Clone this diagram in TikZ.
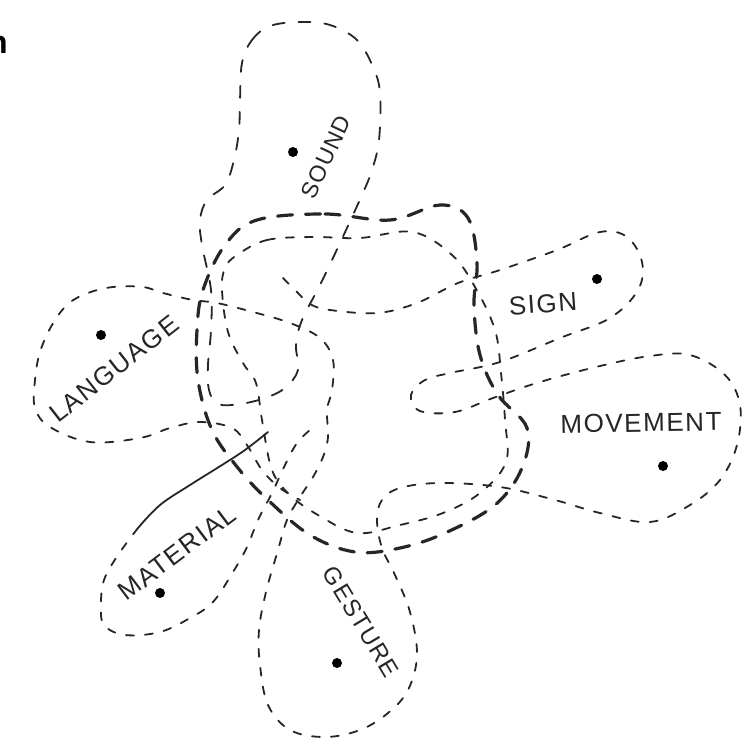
\documentclass[tikz,border=0pt]{standalone}
\usepackage{fontspec}
\newfontfamily\hand[LetterSpace=6]{Liberation Sans}
\newfontfamily\edgefont{Liberation Sans}
\begin{document}
\begin{tikzpicture}[x=0.5pt,y=-0.5pt,line cap=round,line join=round,
  ink/.style={color=black!85},
  thinline/.style={ink,line width=0.9pt,dash pattern=on 4pt off 5.5pt},
  soundline/.style={ink,line width=0.9pt,dash pattern=on 6pt off 7pt},
  boldline/.style={ink,line width=1.6pt,dash pattern=on 7.5pt off 6.5pt},
  solidline/.style={ink,line width=0.9pt},
  spot/.style={circle,fill=black,inner sep=0pt,minimum size=5pt},
  lbl/.style={ink,inner sep=0pt,font=\hand}]
\useasboundingbox (0,0) rectangle (750,745);
\fill[white] (0,0) rectangle (750,745);

% cropped letter at the left edge
\node[anchor=east,inner sep=0pt,font=\edgefont\bfseries\fontsize{16}{18}\selectfont] (edge) at (8,45) {n};

% central bold loop
\draw[boldline] plot[smooth cycle,tension=0.6] coordinates {
 (257,220) (325,214) (390,220) (440,205) (468,218) (477,262) (474,305)
 (480,355) (498,395) (527,428) (522,468) (495,505) (445,533) (400,548)
 (355,552) (310,535) (268,500) (238,468) (212,430) (198,380) (197,330)
 (203,290) (225,245)};

% sound loop
\draw[soundline] plot[smooth cycle,tension=0.6] coordinates {
 (242,63) (252,40) (270,26) (300,22) (330,25) (357,40) (373,67) (380,93)
 (379,140) (372,170) (362,195) (340,243) (320,285) (302,320) (296,345)
 (298,370) (285,388) (265,398) (240,404) (218,404) (209,390) (208,365)
 (211,330) (211,290) (202,245) (200,220) (207,200) (225,185) (234,160)
 (239,130) (240,100)};

% inner loop
\draw[thinline] plot[smooth cycle,tension=0.6] coordinates {
 (237,255) (267,240) (313,237) (360,238) (413,232) (452,255) (475,287)
 (495,330) (501,373) (505,420) (506,462) (480,493) (443,513) (400,525)
 (357,533) (318,515) (290,495) (272,470) (262,420) (256,383) (243,363)
 (228,332) (222,290) (225,268)};

% long strand: sign, movement, gesture, language
\draw[thinline] plot[smooth,tension=0.6] coordinates {
 (283,278) (297,292) (310,304) (330,310) (377,313) (417,303) (458,283)
 (500,270) (557,250) (600,232) (627,237) (642,262) (638,290) (610,318)
 (560,338) (500,362) (450,373) (425,380) (411,395) (420,411) (455,412)
 (493,398) (540,382) (600,366) (650,356) (690,355) (725,375) (740,405)
 (737,445) (720,480) (690,505) (650,522) (600,513) (555,500) (500,487)
 (440,483) (400,488) (382,500) (377,520) (382,548) (395,575) (410,612)
 (417,655) (408,690) (388,713) (360,730) (325,737) (290,730) (268,705)
 (260,665) (259,630) (266,592) (278,550) (287,520) (300,497) (313,477)
 (323,457) (328,437) (327,410) (332,390) (333,360) (320,338) (290,323)
 (253,312) (217,303) (193,300) (163,293) (143,287) (113,287) (88,293)
 (68,304) (52,325) (40,352) (35,380) (35,408) (50,427) (90,442) (140,438)
 (170,428) (200,422) (232,428) (247,445) (262,470) (280,488) (300,500)};

% material lobe
\draw[solidline] plot[smooth,tension=0.6] coordinates {
 (268,432) (245,450) (222,465) (190,485) (160,505) (138,528)};
\draw[thinline] plot[smooth,tension=0.6] coordinates {
 (138,528) (118,555) (104,580) (101,605) (104,625) (125,635) (160,632)
 (190,618) (213,602) (233,572) (247,547) (258,520) (272,493) (285,465)
 (297,443) (310,430)};

% dots
\node[spot] (dsound) at (293,152) {};
\node[spot] (dsign) at (597,279) {};
\node[spot] (dmove) at (663,466) {};
\node[spot] (dgest) at (337,663) {};
\node[spot] (dmat) at (160,593) {};
\node[spot] (dlang) at (101,335) {};

% labels
\node[lbl,rotate=65,font=\hand\fontsize{11.5}{13}\selectfont] (tsound) at (326,157) {SOUND};
\node[lbl,rotate=4,font=\hand\fontsize{13}{15}\selectfont] (tsign) at (543,304) {SIGN};
\node[lbl,rotate=1,font=\hand\fontsize{13}{15}\selectfont] (tmove) at (641,423) {MOVEMENT};
\node[lbl,rotate=-59,font=\hand\fontsize{12}{14}\selectfont] (tgest) at (361,622) {GESTURE};
\node[lbl,rotate=37,font=\hand\fontsize{13}{15}\selectfont] (tmat) at (177,553) {MATERIAL};
\node[lbl,rotate=38,font=\hand\fontsize{13}{15}\selectfont] (tlang) at (114,369) {LANGUAGE};
\end{tikzpicture}
\end{document}
